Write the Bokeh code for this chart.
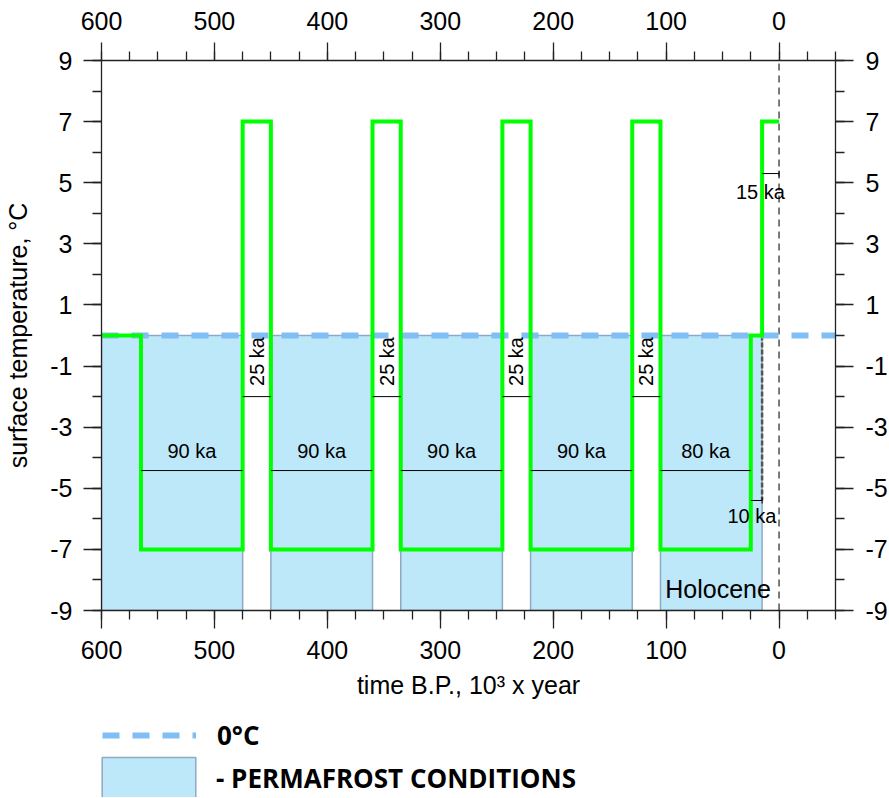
import math
from bokeh.plotting import figure
from bokeh.layouts import column
from bokeh.models import Range1d, LinearAxis, FixedTicker, Legend, LegendItem
from bokeh.core.properties import value
from bokeh.embed import file_html
from bokeh.resources import INLINE

# ---------------- data ----------------
step_time = [600, 565, 475, 450, 360, 335, 245, 220, 130, 105, 25, 15, 0]
step_temp = [0, -7, 7, -7, 7, -7, 7, -7, 7, -7, 0, 7, 7]

perm_start = [600, 450, 335, 220, 105]
perm_end = [475, 360, 245, 130, 15]
perm_bottom = -9
perm_top = 0

zero_time = [600, -50]
zero_temp = [0, 0]

glacial_start = [565, 450, 335, 220, 105]
glacial_end = [475, 360, 245, 130, 25]
glacial_labels = ["90 ka", "90 ka", "90 ka", "90 ka", "80 ka"]
glacial_marker_temp = -4.42
glacial_label_temp = -3.79

inter_start = [475, 360, 245, 130]
inter_end = [450, 335, 220, 105]
inter_labels = ["25 ka", "25 ka", "25 ka", "25 ka"]
inter_marker_temp = -2.0
inter_label_temp = -0.85

holo_start, holo_end, holo_temp = 25, 15, -5.4
holo_label = "10 ka"
warm_start, warm_end, warm_temp = 15, 0, 5.3
warm_label = "15 ka"

legend_labels = ["0°C", "- PERMAFROST CONDITIONS"]

x_major = [600, 500, 400, 300, 200, 100, 0]
x_minor = [600 - 25 * i for i in range(27)]
y_major = [-9, -7, -5, -3, -1, 1, 3, 5, 7, 9]
y_minor = list(range(-9, 10))

FONT = "Liberation Sans"
GREEN = "#00FF00"
ZERO_BLUE = "#80BEF6"
PERM_FILL = "#BCE8F9"
PERM_EDGE = "#8FA9C2"
ZERO_DASH = "17 13"

p = figure(frame_width=734, frame_height=550,
           x_range=Range1d(600, -50), y_range=Range1d(-9, 9),
           x_axis_type=None, y_axis_type=None,
           output_backend="svg", toolbar_location=None,
           min_border_left=101, min_border_right=52,
           min_border_top=60, min_border_bottom=95)
p.xgrid.visible = False
p.ygrid.visible = False
p.outline_line_color = None


def style_axis(ax, label=None):
    ax.major_tick_out = 18
    ax.major_tick_in = 0
    ax.minor_tick_out = 9
    ax.minor_tick_in = 0
    ax.axis_line_color = "#222222"
    ax.axis_line_width = 1.3
    ax.major_tick_line_color = "#222222"
    ax.major_tick_line_width = 1.3
    ax.minor_tick_line_color = "#222222"
    ax.minor_tick_line_width = 1.3
    ax.major_label_text_font = FONT
    ax.major_label_text_font_size = "25px"
    ax.major_label_text_color = "black"
    if label:
        ax.axis_label = label
        ax.axis_label_text_font = FONT
        ax.axis_label_text_font_size = "25px"
        ax.axis_label_text_font_style = "normal"
        ax.axis_label_text_color = "black"


xt = FixedTicker(ticks=x_major, minor_ticks=x_minor)
yt = FixedTicker(ticks=y_major, minor_ticks=y_minor)
y_text = {v: str(v) for v in y_major}

bottom = LinearAxis(ticker=xt)
style_axis(bottom, "time B.P., 10³ x year")
bottom.major_label_standoff = 12
bottom.axis_label_standoff = 9
p.add_layout(bottom, "below")

top = LinearAxis(ticker=xt)
style_axis(top)
top.major_label_standoff = 13
p.add_layout(top, "above")

left = LinearAxis(ticker=yt)
style_axis(left, "surface temperature, °C")
left.major_label_overrides = y_text
left.major_label_standoff = 11
left.axis_label_standoff = 15
p.add_layout(left, "left")

right = LinearAxis(ticker=yt)
style_axis(right)
right.major_label_overrides = y_text
right.major_label_standoff = 12
p.add_layout(right, "right")

# permafrost fill
p.quad(left=perm_start, right=perm_end, bottom=perm_bottom, top=perm_top,
       fill_color=PERM_FILL, line_color=PERM_EDGE, line_width=1.5)

# vertical dashed 0 line
p.segment(x0=[0], y0=[-9], x1=[0], y1=[9], line_color="#333333",
          line_width=1.3, line_dash="7 5")

# dashed line at the end of the last permafrost period
p.segment(x0=[holo_end], y0=[perm_top], x1=[holo_end], y1=[holo_temp],
          line_color="#555555", line_width=2.5, line_dash="5 2")

# zero line
p.line(x=zero_time, y=zero_temp, line_color=ZERO_BLUE, line_width=6,
       line_dash=ZERO_DASH)

# temperature step curve
p.step(x=step_time, y=step_temp, mode="after", line_color=GREEN, line_width=4,
       line_join="miter")

# glacial markers
p.segment(x0=glacial_start, y0=[glacial_marker_temp] * len(glacial_start),
          x1=glacial_end, y1=[glacial_marker_temp] * len(glacial_end),
          line_color="black", line_width=1)
p.text(x=[(a + b) / 2 for a, b in zip(glacial_start, glacial_end)],
       y=[glacial_label_temp] * len(glacial_labels), text=glacial_labels,
       text_font=value(FONT), text_font_size="20px", text_align="center",
       text_baseline="middle", text_color="black")

# interglacial markers
p.segment(x0=inter_start, y0=[inter_marker_temp] * len(inter_start),
          x1=inter_end, y1=[inter_marker_temp] * len(inter_end),
          line_color="black", line_width=1)
p.text(x=[(a + b) / 2 for a, b in zip(inter_start, inter_end)],
       y=[inter_label_temp] * len(inter_labels), text=inter_labels, angle=math.pi / 2,
       text_font=value(FONT), text_font_size="20px", text_align="center",
       text_baseline="middle", text_color="black")

# 10 ka marker
p.segment(x0=[holo_start], y0=[holo_temp], x1=[holo_end], y1=[holo_temp],
          line_color="black", line_width=1)
p.segment(x0=[holo_end], y0=[holo_temp + 0.1], x1=[holo_end], y1=[holo_temp - 0.1],
          line_color="black", line_width=1)
p.text(x=[24], y=[holo_temp - 0.52], text=[holo_label],
       text_font=value(FONT), text_font_size="20px", text_align="center",
       text_baseline="middle", text_color="black")

# 15 ka marker
p.segment(x0=[warm_start], y0=[warm_temp], x1=[warm_end], y1=[warm_temp],
          line_color="black", line_width=1)
p.segment(x0=[warm_end], y0=[warm_temp + 0.1], x1=[warm_end], y1=[warm_temp - 0.1],
          line_color="black", line_width=1)
p.text(x=[16.5], y=[warm_temp - 0.59], text=[warm_label],
       text_font=value(FONT), text_font_size="20px", text_align="center",
       text_baseline="middle", text_color="black")

# Holocene
p.text(x=[54], y=[-8.28], text=["Holocene"], text_font=value(FONT),
       text_font_size="25px", text_align="center", text_baseline="middle",
       text_color="black")

# ---------------- legend (separate strip below the chart) ----------------
# the same series are drawn here, outside the visible y window, so that the
# legends can show their swatches
lg = figure(width=887, height=92, x_range=Range1d(600, -50), y_range=Range1d(100, 101),
            x_axis_type=None, y_axis_type=None, output_backend="svg",
            toolbar_location=None, min_border=0, outline_line_color=None)
lg.xgrid.visible = False
lg.ygrid.visible = False
r_zero = lg.line(x=zero_time, y=zero_temp, line_color=ZERO_BLUE, line_width=6,
                 line_dash=ZERO_DASH)
r_perm = lg.quad(left=perm_start, right=perm_end, bottom=perm_bottom, top=perm_top,
                 fill_color=PERM_FILL, line_color=PERM_EDGE, line_width=1.5)

common = dict(orientation="vertical", padding=0, margin=0,
              label_text_font="Open Sans", label_text_font_style="bold",
              label_text_font_size="26px", label_text_color="black",
              background_fill_alpha=0, border_line_alpha=0)
legend_zero = Legend(items=[LegendItem(label=legend_labels[0], renderers=[r_zero])],
                     location=(1, 42), glyph_width=94, glyph_height=40,
                     label_standoff=21, **common)
legend_perm = Legend(items=[LegendItem(label=legend_labels[1], renderers=[r_perm])],
                     location=(-11, -6), glyph_width=117, glyph_height=51,
                     label_standoff=9, **common)
lg.add_layout(legend_zero, "center")
lg.add_layout(legend_perm, "center")

layout = column(p, lg, spacing=0)
open("out.html", "w").write(file_html(layout, INLINE))
